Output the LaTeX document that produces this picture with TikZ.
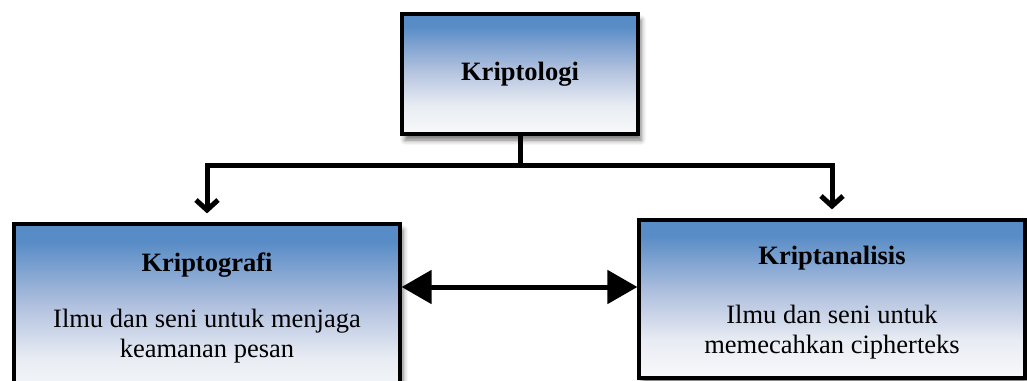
\documentclass[tikz,border=0pt]{standalone}
\usepackage{fontspec}
\setmainfont{Liberation Serif}
\usetikzlibrary{arrows.meta,shadows.blur,calc}
\definecolor{boxblue}{RGB}{88,140,198}
\definecolor{boxmid}{RGB}{176,192,222}
\definecolor{boxpale}{RGB}{232,236,243}
\definecolor{boxwhite}{RGB}{248,249,250}
\pgfdeclareverticalshading{boxshade}{100bp}{%
  color(0bp)=(boxwhite); color(25bp)=(boxwhite); color(37bp)=(boxpale);
  color(52bp)=(boxmid); color(70bp)=(boxblue); color(100bp)=(boxblue)}
\tikzset{
  box/.style={draw=black, line width=3.2pt, rectangle, inner sep=0pt,
    shading=boxshade,
    blur shadow={shadow xshift=3pt, shadow yshift=-6pt, shadow blur radius=5pt, shadow opacity=55}},
  title/.style={font=\fontsize{26.5}{30}\selectfont\bfseries, inner sep=0pt},
  body/.style={font=\fontsize{26.5}{30}\selectfont, align=center, inner sep=0pt},
  tree/.style={line width=5pt, -{Straight Barb[length=10pt,width=22pt,line width=5pt]}, shorten >=9pt},
  link/.style={line width=5pt, {Triangle[length=30pt,width=33pt]}-{Triangle[length=30pt,width=33pt]}}
}
\begin{document}
\begin{tikzpicture}[x=1pt,y=-1pt]
\useasboundingbox (0,0) rectangle (1027,380);
\clip (0,0) rectangle (1027,380);
\node[box, line width=4pt, minimum width=236pt, minimum height=120pt] (top) at (520,74) {};
\node[box, minimum width=386pt, minimum height=176pt] (left) at (207,312) {};
\node[box, minimum width=386pt, minimum height=158pt] (right) at (832,299) {};
\node[title] (t1) at (520,74) {Kriptologi};
\node[title] (t2) at (207,265) {Kriptografi};
\node[body] (b2) at (207,336) {Ilmu dan seni untuk menjaga\\keamanan pesan};
\node[title] (t3) at (832,258) {Kriptanalisis};
\node[body] (b3) at (832,332) {Ilmu dan seni untuk\\memecahkan cipherteks};
\coordinate (j) at ($(top.south)+(0,29)$);
\draw[line width=5pt] (top.south) -- (j);
\draw[tree] (j) -| (left.north);
\draw[tree] (j) -| (right.north);
\coordinate (ah) at (0,287);
\draw[link] (left.east |- ah) -- (right.west |- ah);
\end{tikzpicture}
\end{document}
